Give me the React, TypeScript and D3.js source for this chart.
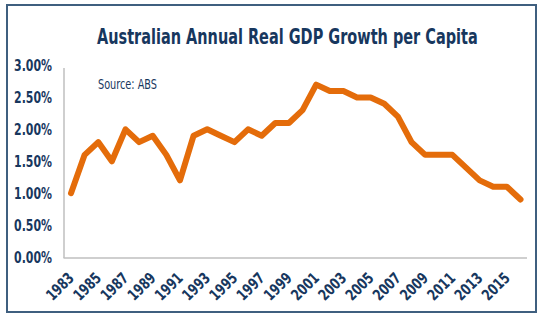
import React, { useLayoutEffect, useRef, useState } from "react";
import * as d3 from "d3";

const years: number[] = [
  1983, 1984, 1985, 1986, 1987, 1988, 1989, 1990, 1991, 1992, 1993, 1994,
  1995, 1996, 1997, 1998, 1999, 2000, 2001, 2002, 2003, 2004, 2005, 2006,
  2007, 2008, 2009, 2010, 2011, 2012, 2013, 2014, 2015, 2016,
];
const growth: number[] = [
  1.0, 1.6, 1.8, 1.5, 2.0, 1.8, 1.9, 1.6, 1.2, 1.9, 2.0, 1.9,
  1.8, 2.0, 1.9, 2.1, 2.1, 2.3, 2.7, 2.6, 2.6, 2.5, 2.5, 2.4,
  2.2, 1.8, 1.6, 1.6, 1.6, 1.4, 1.2, 1.1, 1.1, 0.9,
];
const yTicks: number[] = [0, 0.5, 1, 1.5, 2, 2.5, 3];
const xTickYears: number[] = [
  1983, 1985, 1987, 1989, 1991, 1993, 1995, 1997, 1999, 2001, 2003, 2005,
  2007, 2009, 2011, 2013, 2015,
];
const title = "Australian Annual Real GDP Growth per Capita";
const source = "Source: ABS";

const W = 543;
const H = 323;
const navy = "#17375E";
const orange = "#E46C0A";
const font = "'Liberation Sans Narrow', 'DejaVu Sans Condensed', 'Roboto', sans-serif";

type FitProps = {
  x: number;
  y: number;
  width: number;
  anchor: "start" | "end";
  rotate?: number;
  size: number;
  bold?: boolean;
  children: string;
};

function FitText({ x, y, width, anchor, rotate = 0, size, bold, children }: FitProps) {
  const ref = useRef<SVGTextElement>(null);
  const [k, setK] = useState(1);
  useLayoutEffect(() => {
    if (ref.current) {
      const len = ref.current.getComputedTextLength();
      if (len > 0) setK(width / len);
    }
  }, [width, children]);
  return (
    <g transform={`translate(${x},${y}) rotate(${rotate}) scale(${k},1)`}>
      <text
        ref={ref}
        x={0}
        y={0}
        textAnchor={anchor}
        fontFamily={font}
        fontWeight={bold ? "bold" : "normal"}
        fontSize={size}
        fill={navy}
      >
        {children}
      </text>
    </g>
  );
}

export default function App() {
  const x = d3.scaleLinear().domain([1983, 2016]).range([71, 520.5]);
  const y = d3.scaleLinear().domain([0, 3]).range([257, 65.5]);
  const line = d3
    .line<number>()
    .x((_, i) => x(years[i]))
    .y((d) => y(d))
    .curve(d3.curveLinear);

  return (
    <svg
      width={W}
      height={H}
      style={{ position: "absolute", left: 0, top: 0, background: "#fff" }}
    >
      <rect x={7} y={5} width={529} height={307} fill="#fff" stroke="#3F5F7F" strokeWidth={2} />
      <FitText x={97} y={43.5} width={381} anchor="start" size={21.5} bold>
        {title}
      </FitText>
      <FitText x={98} y={89} width={59} anchor="start" size={13.5}>
        {source}
      </FitText>
      {/* axes */}
      <line x1={64} x2={64} y1={68} y2={258} stroke="#BFBFBF" strokeWidth={1.5} />
      <line x1={63.5} x2={527} y1={258} y2={258} stroke="#BFBFBF" strokeWidth={1.5} />
      {yTicks.map((t) => (
        <FitText key={t} x={52} y={y(t) + 5.5} width={38} anchor="end" size={15.5} bold>
          {t.toFixed(2) + "%"}
        </FitText>
      ))}
      {xTickYears.map((yr) => (
        <FitText
          key={yr}
          x={x(yr) + 4}
          y={279}
          width={32}
          anchor="end"
          rotate={-45}
          size={15.5}
          bold
        >
          {String(yr)}
        </FitText>
      ))}
      <path
        d={line(growth) || ""}
        fill="none"
        stroke={orange}
        strokeWidth={6}
        strokeLinejoin="round"
        strokeLinecap="round"
      />
    </svg>
  );
}
